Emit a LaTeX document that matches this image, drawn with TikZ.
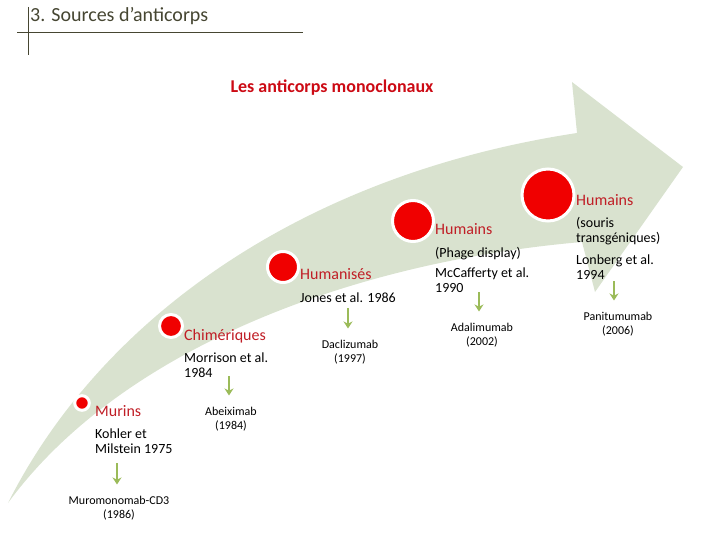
\documentclass[tikz,border=0pt]{standalone}
\usepackage{fontspec}
\setmainfont{Carlito}
\usetikzlibrary{arrows.meta,positioning}

\definecolor{bande}{RGB}{217,226,207}
\definecolor{rouge}{RGB}{192,30,38}
\definecolor{titrerouge}{RGB}{204,10,20}
\definecolor{pastille}{RGB}{240,0,0}
\definecolor{fleche}{RGB}{155,187,89}
\definecolor{olive}{RGB}{70,70,50}

\tikzset{
	pastille/.style={circle, fill=pastille, draw=white, line width=3pt, inner sep=0pt},
	classe/.style={anchor=base west, inner sep=0pt, text=rouge, font=\fontsize{16}{18}\selectfont},
	ref/.style={anchor=base west, inner sep=0pt, align=left, font=\fontsize{14}{15}\selectfont},
	produit/.style={anchor=base, inner sep=0pt, align=center, font=\fontsize{12}{14}\selectfont},
	pfeil/.style={-{Stealth[length=7pt,width=9pt]}, draw=fleche, line width=2pt, shorten >=11pt},
}

\begin{document}
\begin{tikzpicture}[x=1pt, y=-1pt]
		\useasboundingbox (0,0) rectangle (720,540);

		\draw (30,22) node [anchor=base west, inner sep=0pt, text=olive, font=\fontsize{20}{24}\selectfont] (titre) {3. Sources d’anticorps};
		\draw [olive, line width=1pt] (17,33) -- (303,33) (28,7) -- (28,55);
		\draw (332,93) node [anchor=base, inner sep=0pt, text=titrerouge, font=\bfseries\fontsize{18}{21}\selectfont] (sujet) {Les anticorps monoclonaux};

		\fill [bande] (8,503) .. controls (100,320) and (300,175) .. (577,133) -- (572,82) -- (683,167) -- (595,292) -- (582,242) .. controls (350,262) and (120,350) .. (8,503) -- cycle;

		\draw (82,403) node [pastille, minimum size=14.6pt] (murins) {};
		\draw (171,326) node [pastille, minimum size=23pt] (chim) {};
		\draw (283,267) node [pastille, minimum size=31pt] (human) {};
		\draw (413,221) node [pastille, minimum size=41pt] (phage) {};
		\draw (548,195) node [pastille, minimum size=52pt] (souris) {};

		\draw (95,416) node [classe] (lmurins) {Murins};
		\draw (184,340) node [classe] (lchim) {Chimériques};
		\draw (300,279) node [classe] (lhuman) {Humanisés};
		\draw (435,234) node [classe] (lphage) {Humains};
		\draw (576,206) node [classe] (lsouris) {Humains};

		\draw (95,453) node [ref] (kohler) {Kohler et\\Milstein 1975};
		\draw (184,377) node [ref] (morrison) {Morrison et al.\\1984};
		\draw (300,302) node [ref] (jones) {Jones et al. 1986};
		\draw (435,257) node [ref] (display) {(Phage display)};
		\draw (435,292) node [ref] (mccafferty) {McCafferty et al.\\1990};
		\draw (576,243) node [ref] (transgen) {(souris\\transgéniques)};
		\draw (576,279) node [ref] (lonberg) {Lonberg et al.\\1994};

		\draw (119,518) node [produit] (muro) {Muromonomab-CD3\\(1986)};
		\draw (231,429) node [produit] (abci) {Abeiximab\\(1984)};
		\draw (350,362) node [produit] (dacli) {Daclizumab\\(1997)};
		\draw (482,345) node [produit] (adali) {Adalimumab\\(2002)};
		\draw (618,334) node [produit] (panit) {Panitumumab\\(2006)};

		\coordinate (f1) at (117,463);
		\coordinate (f2) at (229,376);
		\coordinate (f3) at (348,308);
		\coordinate (f4) at (479,292);
		\coordinate (f5) at (614,281);

		\draw [pfeil] (f1) -- (f1 |- muro.north);
		\draw [pfeil] (f2) -- (f2 |- abci.north);
		\draw [pfeil] (f3) -- (f3 |- dacli.north);
		\draw [pfeil] (f4) -- (f4 |- adali.north);
		\draw [pfeil] (f5) -- (f5 |- panit.north);
	\end{tikzpicture}
\end{document}
